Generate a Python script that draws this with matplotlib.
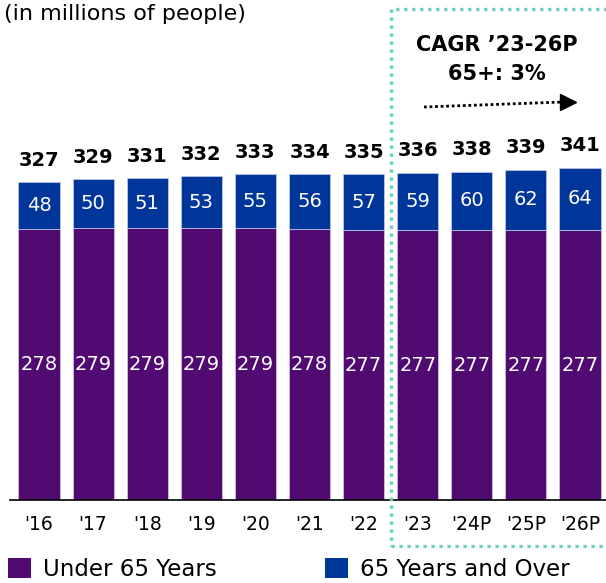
import matplotlib.pyplot as plt
from matplotlib.patches import Patch, Rectangle
from matplotlib.lines import Line2D

# US population by age group (millions)
years = ["'16", "'17", "'18", "'19", "'20", "'21", "'22", "'23", "'24P", "'25P", "'26P"]
under_65 = [278, 279, 279, 279, 279, 278, 277, 277, 277, 277, 277]
over_65 = [48, 50, 51, 53, 55, 56, 57, 59, 60, 62, 64]
totals = [327, 329, 331, 332, 333, 334, 335, 336, 338, 339, 341]

purple = '#500A72'
blue = '#00359A'
teal = '#6ACFBE'

plt.rcParams['font.family'] = ['DejaVu Sans']

W, H = 606, 583
fig = plt.figure(figsize=(W / 100, H / 100), dpi=100)
ax = fig.add_axes([10 / W, 83 / H, 596 / W, 500 / H])

x = range(len(years))
ax.bar(x, under_65, width=0.76, color=purple, edgecolor='#c8c0dc', linewidth=0.6)
ax.bar(x, over_65, width=0.76, bottom=under_65, color=blue, edgecolor='#b8c4e4', linewidth=0.6)

for i in x:
    ax.text(i, under_65[i] / 2, str(under_65[i]), ha='center', va='center',
            color='white', fontsize=14)
    ax.text(i, under_65[i] + over_65[i] / 2, str(over_65[i]), ha='center', va='center',
            color='white', fontsize=14)
    ax.annotate(str(totals[i]), (i, under_65[i] + over_65[i]), xytext=(0, 9),
                textcoords='offset points', ha='center', va='bottom',
                fontsize=14, fontweight='bold', color='black')

ax.set_xlim(-0.536, 10.48)
ax.set_ylim(0, 513)
ax.set_xticks(list(x))
ax.set_xticklabels(years, fontsize=13.5)
ax.tick_params(axis='x', length=0, pad=11)
ax.set_yticks([])
for side in ['top', 'left', 'right']:
    ax.spines[side].set_visible(False)
ax.spines['bottom'].set_linewidth(1.2)

fig.text(4 / W, 1 - 14 / H, '(in millions of people)', fontsize=16, va='center', ha='left')

# projection window
box = Rectangle((391 / W, 37 / H), 0.4, (546 - 9) / H, transform=fig.transFigure,
                fill=False, edgecolor=teal, linewidth=2.4, linestyle=(0, (1, 1.4)),
                clip_on=False)
fig.add_artist(box)

fig.text(497 / W, 1 - 45 / H, "CAGR \u201923-26P", fontsize=15, fontweight='bold',
         ha='center', va='center')
fig.text(497 / W, 1 - 74 / H, "65+: 3%", fontsize=15, fontweight='bold',
         ha='center', va='center')
fig.add_artist(Line2D([424 / W, 563 / W], [1 - 107 / H, 1 - 102 / H], transform=fig.transFigure,
                      color='black', linewidth=2, linestyle=(0, (1, 1))))
fig.add_artist(Line2D([568 / W], [1 - 101.5 / H], transform=fig.transFigure,
                      marker='>', markersize=12, color='black', linestyle='none'))

handles = [Patch(facecolor=purple), Patch(facecolor=blue)]
fig.legend(handles, ['Under 65 Years', '65 Years and Over'], loc='lower left',
           bbox_to_anchor=(-0.002, -0.012), ncol=2, frameon=False, fontsize=16.5,
           handlelength=1.0, handleheight=1.0, handletextpad=0.55, columnspacing=4.7,
           borderaxespad=0.0)

fig.savefig('out.png', dpi=100)
